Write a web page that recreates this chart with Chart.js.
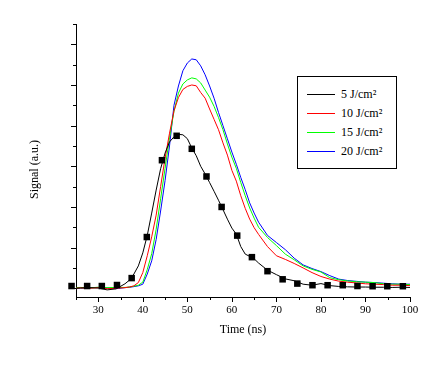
<!DOCTYPE html>
<html>
<head>
<meta charset="utf-8">
<script src="https://cdn.jsdelivr.net/npm/chart.js@4/dist/chart.umd.min.js"></script>
<style>
  body { margin: 0; background: #fff; }
  #wrap { position: relative; width: 443px; height: 366px; }
  #legend {
    position: absolute; left: 297px; top: 76px; width: 98px; height: 83px;
    padding-top: 8px; border: 1px solid #000; background: #fff;
    font: 12px "Liberation Serif", "Times New Roman", serif; color: #000;
  }
  .row { position: relative; height: 19px; line-height: 19px; padding-left: 43px; }
  .swatch { position: absolute; left: 9px; top: 9px; width: 28px; height: 0; border-top: 1px solid #000; }
</style>
</head>
<body>
<div id="wrap">
  <canvas id="myChart" width="443" height="366"></canvas>
  <div id="legend"></div>
</div>
<script>
// time axis (ns) shared by the four traces
const time = [25, 26, 28, 30, 32, 34, 36, 37, 38, 39, 40, 41, 42, 43, 44, 45, 46, 47, 48, 49,
  50, 51, 52, 53, 54, 55, 56, 57, 58, 59, 60, 61, 62, 63, 64, 65, 66, 68, 70, 72,
  74, 76, 78, 80, 82, 84, 86, 88, 90, 92, 94, 96, 98, 100];

const signal5 = [0.0, 0.001, 0.003, 0.001, -0.008, -0.003, 0.022, 0.04, 0.07, 0.11, 0.174, 0.26, 0.37, 0.483, 0.588, 0.665, 0.72, 0.745, 0.757, 0.755,
  0.736, 0.69, 0.652, 0.60, 0.562, 0.52, 0.477, 0.433, 0.387, 0.34, 0.296, 0.266, 0.205, 0.168, 0.157, 0.145, 0.124, 0.089, 0.067, 0.046,
  0.037, 0.02, 0.015, 0.023, 0.013, 0.009, 0.007, 0.006, 0.006, 0.005, 0.005, 0.004, 0.005, 0.004];

const signal10 = [0.0, 0.002, 0.0, 0.003, -0.002, 0.0, 0.003, 0.006, 0.012, 0.028, 0.077, 0.16, 0.253, 0.36, 0.50, 0.64, 0.763, 0.873, 0.938, 0.978,
  0.993, 1.0, 0.996, 0.963, 0.935, 0.882, 0.831, 0.78, 0.715, 0.655, 0.58, 0.527, 0.455, 0.393, 0.34, 0.298, 0.265, 0.205, 0.16, 0.142,
  0.122, 0.1, 0.077, 0.058, 0.045, 0.035, 0.03, 0.026, 0.022, 0.02, 0.018, 0.015, 0.015, 0.013];

const signal15 = [0.002, 0.004, 0.002, 0.005, 0.003, 0.004, 0.004, 0.006, 0.01, 0.015, 0.03, 0.092, 0.17, 0.29, 0.44, 0.59, 0.74, 0.87, 0.96, 1.005,
  1.025, 1.035, 1.03, 1.01, 0.975, 0.94, 0.895, 0.84, 0.78, 0.71, 0.645, 0.59, 0.52, 0.455, 0.395, 0.345, 0.3, 0.25, 0.21, 0.168,
  0.14, 0.11, 0.093, 0.08, 0.052, 0.042, 0.036, 0.032, 0.03, 0.028, 0.022, 0.02, 0.02, 0.018];

const signal20 = [0.0, 0.002, 0.003, 0.004, 0.002, -0.002, 0.003, 0.005, 0.008, 0.012, 0.02, 0.07, 0.135, 0.24, 0.38, 0.53, 0.70, 0.9, 0.995, 1.07,
  1.108, 1.128, 1.124, 1.094, 1.05, 0.995, 0.935, 0.865, 0.8, 0.735, 0.67, 0.61, 0.545, 0.485, 0.42, 0.37, 0.325, 0.26, 0.225, 0.19,
  0.148, 0.115, 0.097, 0.082, 0.062, 0.045, 0.038, 0.034, 0.03, 0.028, 0.025, 0.022, 0.02, 0.02];

// square markers on the 5 J/cm2 trace
const markerTime = [24.0, 27.5, 30.8, 34.2, 37.5, 40.9, 44.3, 47.6, 51.0, 54.3, 57.7, 61.2, 64.5, 68.0, 71.4, 74.7, 78.1, 81.5, 84.9, 88.2, 91.6, 94.9, 98.4, 101.8];
const markerSignal = [0.011, 0.011, 0.011, 0.016, 0.05, 0.252, 0.63, 0.75, 0.686, 0.55, 0.40, 0.259, 0.153, 0.084, 0.044, 0.023, 0.015, 0.015, 0.015, 0.011, 0.01, 0.01, 0.01, 0.01];

const seriesLabels = ['5 J/cm²', '10 J/cm²', '15 J/cm²', '20 J/cm²'];
const seriesColors = ['#000000', '#ff0000', '#00ff00', '#0000ff'];

// tick values (labels only on the tens)
const xTicks = [25, 30, 35, 40, 45, 50, 55, 60, 65, 70, 75, 80, 85, 90, 95, 100];
const xTickLabels = [30, 40, 50, 60, 70, 80, 90, 100];
const yTicks = [0, 0.1, 0.2, 0.3, 0.4, 0.5, 0.6, 0.7, 0.8, 0.9, 1.0, 1.1, 1.2, 1.3];

const toPoints = (xs, ys) => xs.map((x, i) => ({ x: x, y: ys[i] }));
const FONT = 'Liberation Serif';

// draws long ticks on majors and short ones on minors
const axisTicks = {
  id: 'axisTicks',
  beforeDatasetsDraw(chart) {
    const { ctx, scales: { x, y } } = chart;
    ctx.save();
    ctx.strokeStyle = '#000';
    ctx.lineWidth = 1;
    ctx.beginPath();
    x.ticks.forEach(t => {
      const px = Math.round(x.getPixelForValue(t.value)) + 0.5;
      const len = t.value % 10 === 0 ? 5 : 3;
      ctx.moveTo(px, x.top);
      ctx.lineTo(px, x.top + len);
    });
    y.ticks.forEach((t, i) => {
      const py = Math.round(y.getPixelForValue(t.value)) + 0.5;
      const len = i % 2 === 0 ? 5 : 3;
      ctx.moveTo(y.right - len, py);
      ctx.lineTo(y.right, py);
    });
    ctx.stroke();
    ctx.restore();
  }
};

const datasets = [{
  label: 'markers',
  data: toPoints(markerTime, markerSignal),
  showLine: false,
  pointStyle: 'rect',
  pointRadius: 4.6,
  pointBackgroundColor: '#000',
  pointBorderWidth: 0,
  clip: false
}];
[signal5, signal10, signal15, signal20].forEach((s, i) => {
  datasets.push({
    label: seriesLabels[i],
    data: toPoints(time, s),
    borderColor: seriesColors[i],
    borderWidth: 1,
    pointRadius: 0,
    tension: 0,
    fill: false
  });
});

const ctx = document.getElementById('myChart').getContext('2d');
const myChart = new Chart(ctx, {
  type: 'line',
  data: { datasets: datasets },
  options: {
    responsive: false,
    animation: false,
    events: [],
    layout: { padding: { top: 24, right: 33, bottom: 20, left: 0 } },
    plugins: { legend: { display: false }, tooltip: { enabled: false } },
    scales: {
      x: {
        type: 'linear',
        min: 25,
        max: 100,
        afterBuildTicks: (scale) => { scale.ticks = xTicks.map(v => ({ value: v })); },
        afterFit: (scale) => { scale.height = 49; },
        grid: { drawOnChartArea: false, tickLength: 5, tickColor: 'rgba(0,0,0,0)' },
        border: { display: true, color: '#000', width: 1 },
        ticks: {
          autoSkip: false,
          maxRotation: 0,
          padding: 2,
          color: '#000',
          font: { family: FONT, size: 11 },
          callback: (v) => xTickLabels.includes(v) ? String(v) : ''
        },
        title: {
          display: true,
          text: 'Time (ns)',
          color: '#000',
          font: { family: FONT, size: 12 },
          padding: { top: 4, bottom: 9 }
        }
      },
      y: {
        min: -0.043,
        max: 1.3,
        afterBuildTicks: (scale) => { scale.ticks = yTicks.map(v => ({ value: v })); },
        afterFit: (scale) => { scale.width = 76; },
        grid: { drawOnChartArea: false, tickLength: 5, tickColor: 'rgba(0,0,0,0)' },
        border: { display: true, color: '#000', width: 1 },
        ticks: { display: false },
        title: {
          display: true,
          text: 'Signal (a.u.)\u00a0\u00a0\u00a0\u00a0\u00a0\u00a0',
          color: '#000',
          font: { family: FONT, size: 12 },
          padding: { top: 28, bottom: 0 }
        }
      }
    }
  },
  plugins: [axisTicks]
});

// legend box built from the line datasets
const legendBox = document.getElementById('legend');
myChart.data.datasets.filter(ds => ds.label !== 'markers').forEach(ds => {
  const row = document.createElement('div');
  row.className = 'row';
  const sw = document.createElement('span');
  sw.className = 'swatch';
  sw.style.borderTopColor = ds.borderColor;
  const txt = document.createElement('span');
  txt.textContent = ds.label;
  row.appendChild(sw);
  row.appendChild(txt);
  legendBox.appendChild(row);
});
</script>
</body>
</html>
